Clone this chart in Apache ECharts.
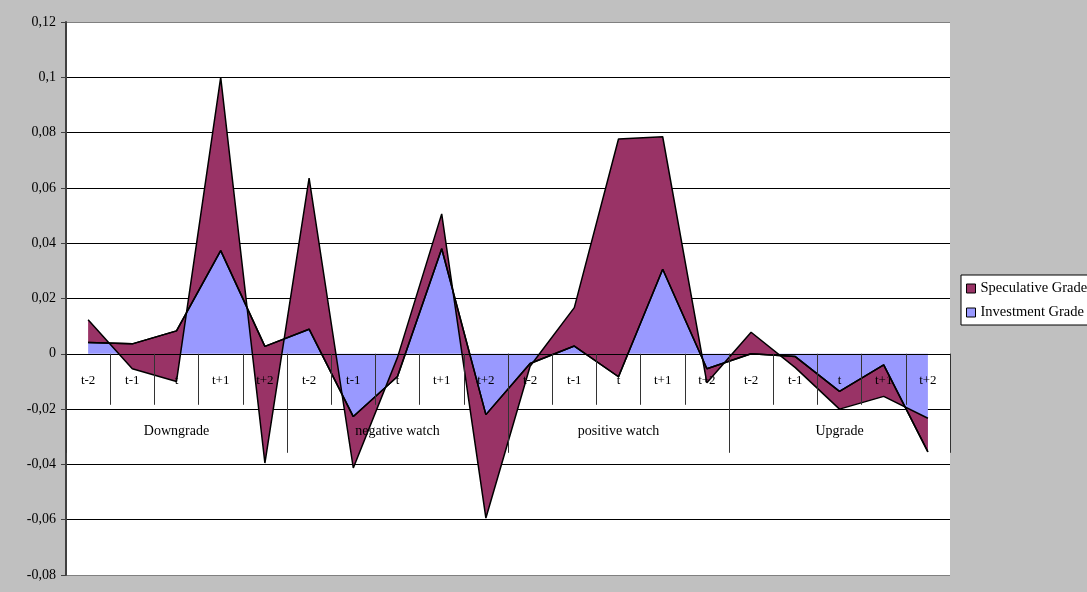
<!DOCTYPE html>
<html>
<head>
<meta charset="utf-8">
<script src="https://cdn.jsdelivr.net/npm/echarts@6/dist/echarts.min.js"></script>
<style>
html,body{margin:0;padding:0;background:#c0c0c0;}
#chart{width:1087px;height:592px;}
</style>
</head>
<body>
<div id="chart"></div>
<script>
// Categories (event window) and groups (event type)
const categories = ['t-2','t-1','t','t+1','t+2','t-2','t-1','t','t+1','t+2','t-2','t-1','t','t+1','t+2','t-2','t-1','t','t+1','t+2'];
const groups = ['Downgrade','negative watch','positive watch','Upgrade'];

// Investment Grade (base of the stacked area)
const investment = [0.0041, 0.0036, 0.0083, 0.0373, 0.0027,
                    0.0089, -0.0227, -0.0082, 0.0380, -0.0220,
                    -0.0035, 0.0028, -0.0083, 0.0306, -0.0054,
                    0.0000, -0.0010, -0.0136, -0.0040, -0.0355];
// Speculative Grade (stacked on top of Investment Grade)
const speculative = [0.0082, -0.0090, -0.0183, 0.0627, -0.0422,
                     0.0546, -0.0186, 0.0069, 0.0126, -0.0374,
                     -0.0010, 0.0139, 0.0860, 0.0479, -0.0051,
                     0.0078, -0.0040, -0.0064, -0.0114, 0.0122];

const yMin = -0.08, yMax = 0.12, yStep = 0.02;

const W = 1087, H = 592;
const gridLeft = 66, gridRight = 137, gridTop = 22, gridBottom = 17;
const plotH = H - gridTop - gridBottom;
// distance from the bottom of the plot to the zero line (for the category axes)
const zeroOffset = -plotH * (0 - yMin) / (yMax - yMin);

const serif = 'Liberation Serif';
const chart = echarts.init(document.getElementById('chart'), null, {renderer:'canvas'});

const splitColors = [];
for (let i = 0; i <= Math.round((yMax - yMin) / yStep); i++) splitColors.push('#000');
splitColors[0] = '#808080';
splitColors[splitColors.length - 1] = '#808080';

chart.setOption({
  backgroundColor: '#c0c0c0',
  animation: false,
  grid: {left: gridLeft, right: gridRight, top: gridTop, bottom: gridBottom,
         containLabel: false, outerBoundsMode: 'none',
         show: true, backgroundColor: '#fff', borderWidth: 0},
  legend: {
    orient: 'vertical', left: 961, top: 275,
    icon: 'rect', itemWidth: 9, itemHeight: 9, itemGap: 9,
    padding: [6, 6, 5, 5],
    backgroundColor: '#fff', borderColor: '#000', borderWidth: 1,
    textStyle: {fontFamily: serif, fontSize: 14.5, color: '#000', lineHeight: 14},
    itemStyle: {borderColor: '#000', borderWidth: 1},
    data: [
      {name: 'Speculative Grade', itemStyle: {color: '#993366', borderColor: '#000', borderWidth: 1}},
      {name: 'Investment Grade', itemStyle: {color: '#9999FF', borderColor: '#000', borderWidth: 1}}
    ]
  },
  xAxis: [
    {
      type: 'category', data: categories, boundaryGap: true, position: 'bottom',
      offset: zeroOffset, z: 10,
      axisLine: {show: true, onZero: false, lineStyle: {color: '#000', width: 1}},
      axisTick: {show: true, length: 51, lineStyle: {color: '#333', width: 1}},
      axisLabel: {fontFamily: serif, fontSize: 13, color: '#000', margin: 20, interval: 0},
      splitLine: {show: false}
    },
    {
      type: 'category', data: groups, boundaryGap: true, position: 'bottom',
      offset: zeroOffset, z: 10,
      axisLine: {show: false, onZero: false},
      axisTick: {show: true, length: 99, lineStyle: {color: '#333', width: 1}},
      axisLabel: {fontFamily: serif, fontSize: 14, color: '#000', margin: 71, interval: 0},
      splitLine: {show: false}
    }
  ],
  yAxis: {
    type: 'value', min: yMin, max: yMax, interval: yStep,
    axisLine: {show: true, lineStyle: {color: '#404040', width: 2}},
    axisTick: {show: true, length: 5, lineStyle: {color: '#404040'}},
    axisLabel: {
      fontFamily: serif, fontSize: 14, color: '#000', margin: 10,
      formatter: v => String(parseFloat(v.toFixed(2))).replace('.', ',')
    },
    splitLine: {show: true, lineStyle: {color: splitColors, width: 1}}
  },
  series: [
    {
      name: 'Investment Grade', type: 'line', data: investment,
      stack: 'grade', stackStrategy: 'all',
      symbol: 'none', itemStyle: {color: '#9999FF'},
      lineStyle: {color: '#000', width: 1.5},
      areaStyle: {color: '#9999FF', opacity: 1}
    },
    {
      name: 'Speculative Grade', type: 'line', data: speculative,
      stack: 'grade', stackStrategy: 'all',
      symbol: 'none', itemStyle: {color: '#993366'},
      lineStyle: {color: '#000', width: 1.5},
      areaStyle: {color: '#993366', opacity: 1}
    },
    {
      name: 'Investment Grade border', type: 'line', data: investment,
      symbol: 'none', z: 3, silent: true,
      lineStyle: {color: '#000', width: 1.5}
    }
  ]
});
</script>
</body>
</html>
